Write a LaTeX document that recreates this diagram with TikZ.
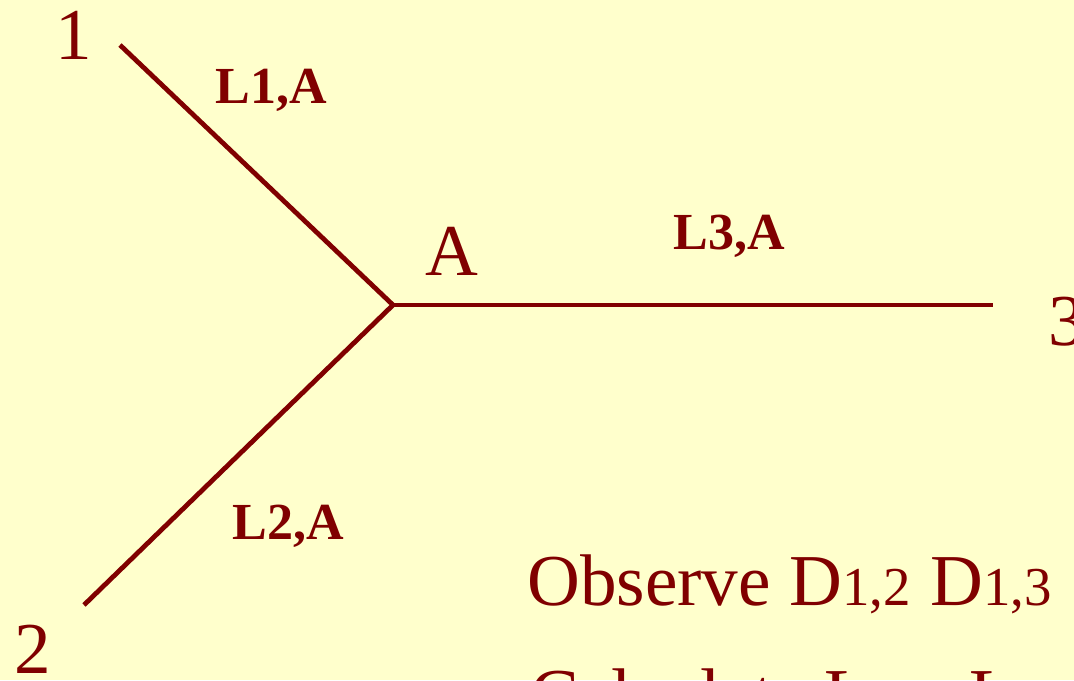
\documentclass[tikz,border=0pt]{standalone}
\usepackage{xcolor}
\usepackage{fontspec}
\setmainfont{Liberation Serif}
\definecolor{linecolor}{RGB}{128, 0, 0}
\definecolor{slidecolor}{RGB}{255, 255, 204}
\usetikzlibrary{positioning}

\begin{document}
\begin{tikzpicture}[
    x=0.025cm, y=-0.025cm,
    branch/.style={draw=linecolor, line width=3.4pt},
    endlabel/.style={inner sep=0, anchor=base, text=linecolor, font=\fontsize{52}{60}\selectfont},
    linklabel/.style={inner sep=0, anchor=base, text=linecolor, font=\fontsize{37}{44}\selectfont\bfseries},
    notetext/.style={inner sep=0, anchor=base west, text=linecolor, font=\fontsize{52}{60}\selectfont}
]
    \fill[slidecolor] (0,0) rectangle (1074,680);
    \useasboundingbox (0,0) rectangle (1074,680);
    \clip (0,0) rectangle (1074,680);

    \coordinate (e1) at (120,45);
    \coordinate (e2) at (84,605);
    \coordinate (e3) at (993,305);
    \coordinate (jA) at (393,305);

    \draw[branch] (e1) -- (jA) -- (e2);
    \draw[branch] (jA) -- (e3);

    \node[endlabel] (n1) at (74,59) {1};
    \node[endlabel] (n2) at (33,673) {2};
    \node[endlabel] (n3) at (1067,345) {3};
    \node[endlabel] (nA) at (452,275) {A};

    \node[linklabel] (l1) at (271,103) {L1,A};
    \node[linklabel] (l2) at (288,539) {L2,A};
    \node[linklabel] (l3) at (729,249) {L3,A};

    \node[notetext] (obs) at (527,605) {Observe D{\fontsize{39}{44}\selectfont 1,2}\hspace{14pt}D{\fontsize{39}{44}\selectfont 1,3}};
    \node[notetext] (calc) at (530,719) {Calculate L{\fontsize{39}{44}\selectfont 1,A}\hspace{14pt}L{\fontsize{39}{44}\selectfont 2,A}};
\end{tikzpicture}
\end{document}
